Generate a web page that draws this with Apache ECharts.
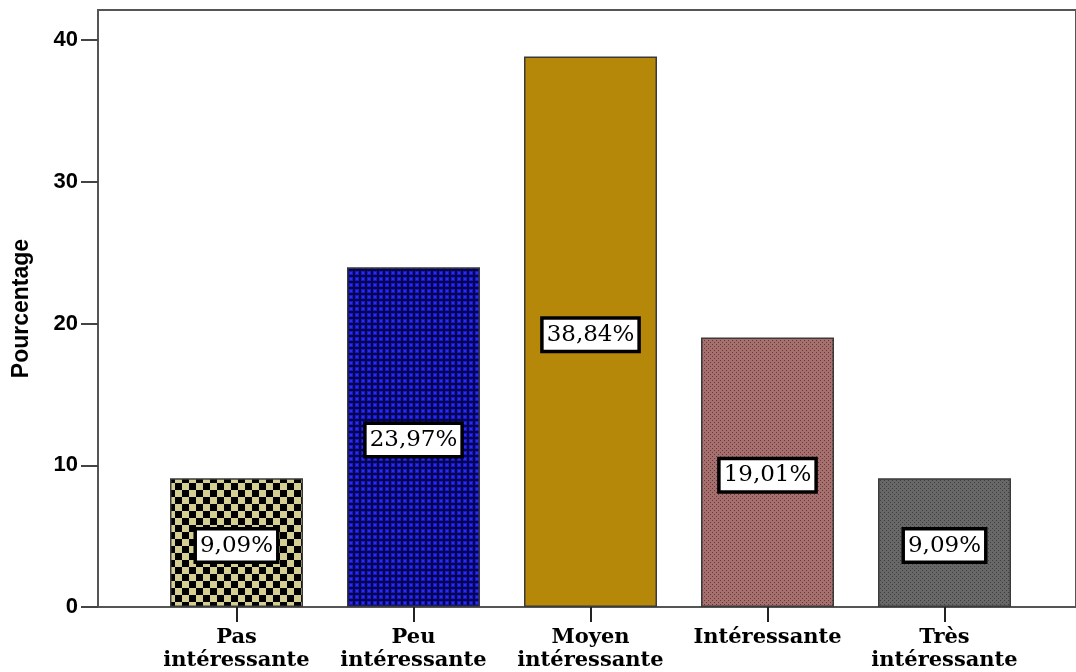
<!DOCTYPE html>
<html>
<head>
<meta charset="utf-8">
<script src="https://cdn.jsdelivr.net/npm/echarts@6/dist/echarts.min.js"></script>
<style>html,body{margin:0;padding:0;background:#fff}#c{width:1076px;height:672px}</style>
</head>
<body>
<div id="c"></div>
<script>
var categories = ['Pas\nintéressante', 'Peu\nintéressante', 'Moyen\nintéressante', 'Intéressante', 'Très\nintéressante'];
var values = [9.09, 23.97, 38.84, 19.01, 9.09];
var yTicks = [0, 10, 20, 30, 40];
var yName = 'Pourcentage';

function mk(w, h, draw) {
  var c = document.createElement('canvas');
  c.width = w; c.height = h;
  draw(c.getContext('2d'));
  return c;
}
var pat1 = mk(14, 14, function (g) {
  g.fillStyle = '#d5ce93'; g.fillRect(0, 0, 14, 14);
  g.fillStyle = '#000'; g.fillRect(0, 0, 7, 7); g.fillRect(7, 7, 7, 7);
});
var pat2 = mk(6, 6, function (g) {
  g.fillStyle = '#08083a'; g.fillRect(0, 0, 6, 6);
  g.fillStyle = '#1414e6'; g.fillRect(1, 1, 4, 4);
  g.fillStyle = '#2a2aff'; g.fillRect(2, 2, 2, 2);
});
var pat4 = mk(4, 4, function (g) {
  g.fillStyle = '#a86f6f'; g.fillRect(0, 0, 4, 4);
  g.fillStyle = '#5c3c3c'; g.fillRect(0, 0, 1, 1); g.fillRect(2, 2, 1, 1);
});
var pat5 = mk(4, 4, function (g) {
  g.fillStyle = '#686868'; g.fillRect(0, 0, 4, 4);
  g.fillStyle = '#3e3e3e'; g.fillRect(0, 0, 1, 1); g.fillRect(2, 2, 1, 1);
});
var fills = [
  { image: pat1, repeat: 'repeat' },
  { image: pat2, repeat: 'repeat' },
  '#b5880a',
  { image: pat4, repeat: 'repeat' },
  { image: pat5, repeat: 'repeat' }
];

var yMax = 40 * 597 / 567;
var chart = echarts.init(document.getElementById('c'), null, { renderer: 'canvas' });
chart.setOption({
  animation: false,
  grid: [
    { left: 98, right: -4, top: 10, height: 597, show: true, borderColor: '#555', borderWidth: 2, backgroundColor: 'transparent' },
    { left: 148, width: 885, top: 10, height: 597 }
  ],
  xAxis: [
    { gridIndex: 0, type: 'value', min: 0, max: 1, show: false },
    {
      gridIndex: 1, type: 'category', data: categories,
      axisLine: { show: false },
      axisTick: { show: true, alignWithLabel: true, length: 15, lineStyle: { color: '#222', width: 2 } },
      axisLabel: { interval: 0, margin: 19, color: '#000', fontFamily: 'DejaVu Serif', fontWeight: 'bold', fontSize: 21, lineHeight: 23 }
    }
  ],
  yAxis: [
    {
      gridIndex: 0, type: 'value', min: 0, max: yMax, interval: 10,
      name: yName, nameLocation: 'middle', nameGap: 65, nameRotate: 90,
      nameTextStyle: { fontFamily: 'Liberation Sans', fontWeight: 'bold', fontSize: 23, color: '#000' },
      axisLine: { show: true, lineStyle: { color: '#555', width: 2 } },
      axisTick: { show: true, length: 17, lineStyle: { color: '#444', width: 2 } },
      splitLine: { show: false },
      axisLabel: {
        margin: 20, color: '#000', fontFamily: 'Liberation Sans', fontWeight: 'bold', fontSize: 22,
        showMaxLabel: false,
        formatter: function (v) { return yTicks.indexOf(v) >= 0 ? String(v) : ''; }
      }
    },
    { gridIndex: 1, type: 'value', min: 0, max: yMax, show: false }
  ],
  series: [{
    type: 'bar', xAxisIndex: 1, yAxisIndex: 1, barWidth: 133,
    data: values.map(function (v, i) {
      return { value: v, itemStyle: { color: fills[i], borderColor: '#3a3a3a', borderWidth: 1.5 } };
    }),
    label: {
      show: true, position: 'inside', offset: [0, 3],
      formatter: function (p) { return p.value.toFixed(2).replace('.', ',') + '%'; },
      fontFamily: 'DejaVu Serif', fontSize: 23, color: '#000',
      backgroundColor: '#fff', borderColor: '#000', borderWidth: 3.5, padding: [4, 3, 3, 3]
    }
  }]
});
</script>
</body>
</html>
